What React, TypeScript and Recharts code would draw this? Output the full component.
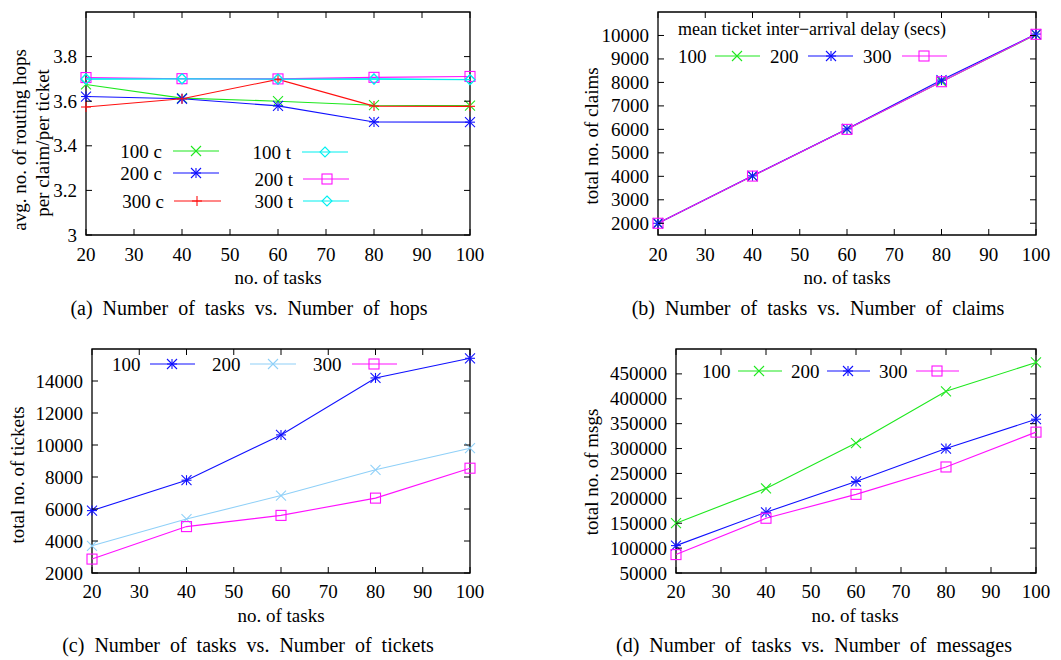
import * as React from "react";
import { LineChart, Line, XAxis, YAxis, ReferenceArea } from "recharts";

const FONT = "'Liberation Serif', 'Times New Roman', serif";
const FS = 19;

// x axis shared by all four panels
const tasks = [20, 40, 60, 80, 100];
const taskTicks = [20, 30, 40, 50, 60, 70, 80, 90, 100];

// (a) avg. routing hops per claim / per ticket
const hops100c = [3.675, 3.614, 3.6, 3.582, 3.58];
const hops200c = [3.621, 3.611, 3.579, 3.507, 3.506];
const hops300c = [3.574, 3.611, 3.698, 3.578, 3.577];
const hops100t = [3.7, 3.7, 3.699, 3.7, 3.697];
const hops200t = [3.706, 3.701, 3.7, 3.707, 3.711];
const hops300t = [3.699, 3.701, 3.699, 3.699, 3.696];
const hopTicks = [3, 3.2, 3.4, 3.6, 3.8];

// (b) total claims
const claims100 = [2000, 4010, 6010, 8030, 10040];
const claims200 = [2000, 4020, 6020, 8100, 10060];
const claims300 = [2000, 4010, 6000, 8030, 10050];
const claimTicks = [2000, 3000, 4000, 5000, 6000, 7000, 8000, 9000, 10000];

// (c) total tickets
const tickets100 = [5900, 7800, 10630, 14190, 15420];
const tickets200 = [3700, 5370, 6840, 8450, 9800];
const tickets300 = [2870, 4900, 5600, 6680, 8550];
const ticketTicks = [2000, 4000, 6000, 8000, 10000, 12000, 14000];

// (d) total messages
const msgs100 = [150000, 220000, 311000, 415000, 473000];
const msgs200 = [105000, 172000, 234000, 300000, 359000];
const msgs300 = [87000, 160000, 208000, 263000, 333000];
const msgTicks = [50000, 100000, 150000, 200000, 250000, 300000, 350000, 400000, 450000];

const GREEN = "#1ee81e";
const BLUE = "#1010ff";
const RED = "#ff1010";
const CYAN = "#00f0f0";
const MAGENTA = "#ff10ff";
const LIGHTBLUE = "#8fd0f8";

type MarkerKind = "cross" | "star" | "plus" | "square" | "diamond";

function Marker({ kind, cx, cy, color, s = 5 }: { kind: MarkerKind; cx: number; cy: number; color: string; s?: number }) {
  const st = { stroke: color, strokeWidth: 1.1, fill: "none" };
  const cross = (
    <>
      <line x1={cx - s} y1={cy - s} x2={cx + s} y2={cy + s} {...st} />
      <line x1={cx - s} y1={cy + s} x2={cx + s} y2={cy - s} {...st} />
    </>
  );
  const plus = (
    <>
      <line x1={cx - s} y1={cy} x2={cx + s} y2={cy} {...st} />
      <line x1={cx} y1={cy - s} x2={cx} y2={cy + s} {...st} />
    </>
  );
  if (kind === "cross") return <g>{cross}</g>;
  if (kind === "plus") return <g>{plus}</g>;
  if (kind === "star") return <g>{cross}{plus}</g>;
  if (kind === "square") return <rect x={cx - s} y={cy - s} width={2 * s} height={2 * s} {...st} />;
  return <polygon points={`${cx},${cy - s} ${cx + s},${cy} ${cx},${cy + s} ${cx - s},${cy}`} {...st} />;
}

type Series = { key: string; color: string; marker: MarkerKind; values: number[] };

type PanelProps = {
  left: number;
  top: number;
  width: number;
  height: number;
  plot: { l: number; t: number; r: number; b: number };
  domain: [number, number];
  ticks: number[];
  series: Series[];
  xTickDy: number;
};

function Panel({ left, top, width, height, plot, domain, ticks, series, xTickDy }: PanelProps) {
  const data = tasks.map((t, i) => {
    const row: Record<string, number> = { tasks: t };
    series.forEach((s) => (row[s.key] = s.values[i]));
    return row;
  });

  const xTick = (props: any) => {
    const x = props.x;
    return (
      <g>
        <line x1={x} x2={x} y1={plot.b} y2={plot.b - 6} stroke="#000" />
        <line x1={x} x2={x} y1={plot.t} y2={plot.t + 6} stroke="#000" />
        <text x={x} y={plot.b + xTickDy} textAnchor="middle" dominantBaseline="central" fontFamily={FONT} fontSize={FS} fill="#000">
          {props.payload.value}
        </text>
      </g>
    );
  };

  const yTick = (props: any) => {
    const y = props.y;
    return (
      <g>
        <line x1={plot.l} x2={plot.l + 6} y1={y} y2={y} stroke="#000" />
        <line x1={plot.r} x2={plot.r - 6} y1={y} y2={y} stroke="#000" />
        <text x={plot.l - 9} y={y} textAnchor="end" dominantBaseline="central" fontFamily={FONT} fontSize={FS} fill="#000">
          {props.payload.value}
        </text>
      </g>
    );
  };

  return (
    <div style={{ position: "absolute", left, top }}>
      <LineChart
        width={width}
        height={height}
        data={data}
        margin={{ top: plot.t, right: width - plot.r, left: 0, bottom: 0 }}
      >
        <XAxis
          dataKey="tasks"
          type="number"
          domain={[20, 100]}
          ticks={taskTicks}
          interval={0}
          height={height - plot.b}
          axisLine={false}
          tickLine={false}
          tickSize={0}
          tickMargin={0}
          tick={xTick}
        />
        <YAxis
          type="number"
          domain={domain}
          ticks={ticks}
          interval={0}
          width={plot.l}
          allowDataOverflow
          axisLine={false}
          tickLine={false}
          tickSize={0}
          tickMargin={0}
          tick={yTick}
        />
        <ReferenceArea x1={20} x2={100} y1={domain[0]} y2={domain[1]} fill="none" fillOpacity={0} stroke="#000" strokeWidth={1.3} />
        {series.map((s) => (
          <Line
            key={s.key}
            type="linear"
            dataKey={s.key}
            stroke={s.color}
            strokeWidth={1.1}
            isAnimationActive={false}
            dot={(p: any) => <Marker key={`${s.key}-${p.index}`} kind={s.marker} cx={p.cx} cy={p.cy} color={s.color} />}
            activeDot={false}
          />
        ))}
      </LineChart>
    </div>
  );
}

type LegendItem = { label: string; color: string; marker: MarkerKind; tx: number; anchor: "start" | "end"; y: number; x1: number; x2: number; mx: number };

const legendA: LegendItem[] = [
  { label: "100 c", color: GREEN, marker: "cross", tx: 162, anchor: "end", y: 151, x1: 173, x2: 219, mx: 196 },
  { label: "200 c", color: BLUE, marker: "star", tx: 162, anchor: "end", y: 173, x1: 173, x2: 219, mx: 196 },
  { label: "300 c", color: RED, marker: "plus", tx: 164, anchor: "end", y: 201, x1: 174, x2: 221, mx: 197 },
  { label: "100 t", color: CYAN, marker: "diamond", tx: 291, anchor: "end", y: 152, x1: 302, x2: 348, mx: 325 },
  { label: "200 t", color: MAGENTA, marker: "square", tx: 293, anchor: "end", y: 179, x1: 303, x2: 349, mx: 327 },
  { label: "300 t", color: CYAN, marker: "diamond", tx: 293, anchor: "end", y: 201, x1: 303, x2: 349, mx: 327 },
];

const legendB: LegendItem[] = [
  { label: "100", color: GREEN, marker: "cross", tx: 678, anchor: "start", y: 56, x1: 715, x2: 760, mx: 737 },
  { label: "200", color: BLUE, marker: "star", tx: 770, anchor: "start", y: 56, x1: 808, x2: 853, mx: 831 },
  { label: "300", color: MAGENTA, marker: "square", tx: 863, anchor: "start", y: 56, x1: 902, x2: 947, mx: 924 },
];

const legendC: LegendItem[] = [
  { label: "100", color: BLUE, marker: "star", tx: 112, anchor: "start", y: 364, x1: 150, x2: 195, mx: 172 },
  { label: "200", color: LIGHTBLUE, marker: "cross", tx: 212, anchor: "start", y: 364, x1: 250, x2: 296, mx: 273 },
  { label: "300", color: MAGENTA, marker: "square", tx: 313, anchor: "start", y: 364, x1: 352, x2: 397, mx: 374 },
];

const legendD: LegendItem[] = [
  { label: "100", color: GREEN, marker: "cross", tx: 702, anchor: "start", y: 371, x1: 738, x2: 782, mx: 759 },
  { label: "200", color: BLUE, marker: "star", tx: 791, anchor: "start", y: 371, x1: 827, x2: 870, mx: 848 },
  { label: "300", color: MAGENTA, marker: "square", tx: 879, anchor: "start", y: 371, x1: 916, x2: 959, mx: 937 },
];

function Txt({ x, y, children, size = FS, rotate = false, anchor = "middle", spacing = 0 }: any) {
  return (
    <text
      x={x}
      y={y}
      textAnchor={anchor}
      dominantBaseline="central"
      fontFamily={FONT}
      fontSize={size}
      fill="#000"
      wordSpacing={spacing}
      transform={rotate ? `rotate(-90 ${x} ${y})` : undefined}
    >
      {children}
    </text>
  );
}

export default function App() {
  const allLegend = [...legendA, ...legendB, ...legendC, ...legendD];
  return (
    <div style={{ position: "absolute", left: 0, top: 0, width: 1061, height: 660, background: "#fff", fontFamily: FONT }}>
      <Panel
        left={0}
        top={0}
        width={530}
        height={290}
        plot={{ l: 86, t: 12, r: 470, b: 235 }}
        domain={[3, 4]}
        ticks={hopTicks}
        xTickDy={19}
        series={[
          { key: "h100c", color: GREEN, marker: "cross", values: hops100c },
          { key: "h200c", color: BLUE, marker: "star", values: hops200c },
          { key: "h300c", color: RED, marker: "plus", values: hops300c },
          { key: "h100t", color: CYAN, marker: "diamond", values: hops100t },
          { key: "h200t", color: MAGENTA, marker: "square", values: hops200t },
          { key: "h300t", color: CYAN, marker: "diamond", values: hops300t },
        ]}
      />
      <Panel
        left={530}
        top={0}
        width={531}
        height={290}
        plot={{ l: 128, t: 12, r: 506, b: 235 }}
        domain={[1500, 11000]}
        ticks={claimTicks}
        xTickDy={19}
        series={[
          { key: "c100", color: GREEN, marker: "cross", values: claims100 },
          { key: "c200", color: BLUE, marker: "star", values: claims200 },
          { key: "c300", color: MAGENTA, marker: "square", values: claims300 },
        ]}
      />
      <Panel
        left={0}
        top={330}
        width={530}
        height={290}
        plot={{ l: 92, t: 19, r: 470, b: 243 }}
        domain={[2000, 16000]}
        ticks={ticketTicks}
        xTickDy={18}
        series={[
          { key: "t100", color: BLUE, marker: "star", values: tickets100 },
          { key: "t200", color: LIGHTBLUE, marker: "cross", values: tickets200 },
          { key: "t300", color: MAGENTA, marker: "square", values: tickets300 },
        ]}
      />
      <Panel
        left={530}
        top={330}
        width={531}
        height={290}
        plot={{ l: 146, t: 19, r: 506, b: 243 }}
        domain={[50000, 500000]}
        ticks={msgTicks}
        xTickDy={18}
        series={[
          { key: "m100", color: GREEN, marker: "cross", values: msgs100 },
          { key: "m200", color: BLUE, marker: "star", values: msgs200 },
          { key: "m300", color: MAGENTA, marker: "square", values: msgs300 },
        ]}
      />

      <svg width={1061} height={660} style={{ position: "absolute", left: 0, top: 0, pointerEvents: "none" }}>
        {/* axis titles */}
        <Txt x={19} y={140} rotate>avg. no. of routing hops</Txt>
        <Txt x={42} y={143} rotate>per claim/per ticket</Txt>
        <Txt x={278} y={277}>no. of tasks</Txt>
        <Txt x={591} y={136} rotate>total no. of claims</Txt>
        <Txt x={847} y={277}>no. of tasks</Txt>
        <Txt x={17} y={475} rotate>total no. of tickets</Txt>
        <Txt x={281} y={615}>no. of tasks</Txt>
        <Txt x={591} y={472} rotate>total no. of msgs</Txt>
        <Txt x={855} y={615}>no. of tasks</Txt>

        {/* legends */}
        <Txt x={678} y={29} anchor="start" size={18}>mean ticket inter−arrival delay (secs)</Txt>
        {allLegend.map((it, i) => (
          <g key={i}>
            <Txt x={it.tx} y={it.y} anchor={it.anchor}>{it.label}</Txt>
            <line x1={it.x1} x2={it.x2} y1={it.y} y2={it.y} stroke={it.color} strokeWidth={1.1} />
            <Marker kind={it.marker} cx={it.mx} cy={it.y} color={it.color} />
          </g>
        ))}

        {/* captions */}
        <Txt x={249} y={308} size={20} spacing={5}>(a) Number of tasks vs. Number of hops</Txt>
        <Txt x={818} y={308} size={20} spacing={5}>(b) Number of tasks vs. Number of claims</Txt>
        <Txt x={248} y={645} size={20} spacing={5}>(c) Number of tasks vs. Number of tickets</Txt>
        <Txt x={814} y={645} size={20} spacing={5}>(d) Number of tasks vs. Number of messages</Txt>
      </svg>
    </div>
  );
}
